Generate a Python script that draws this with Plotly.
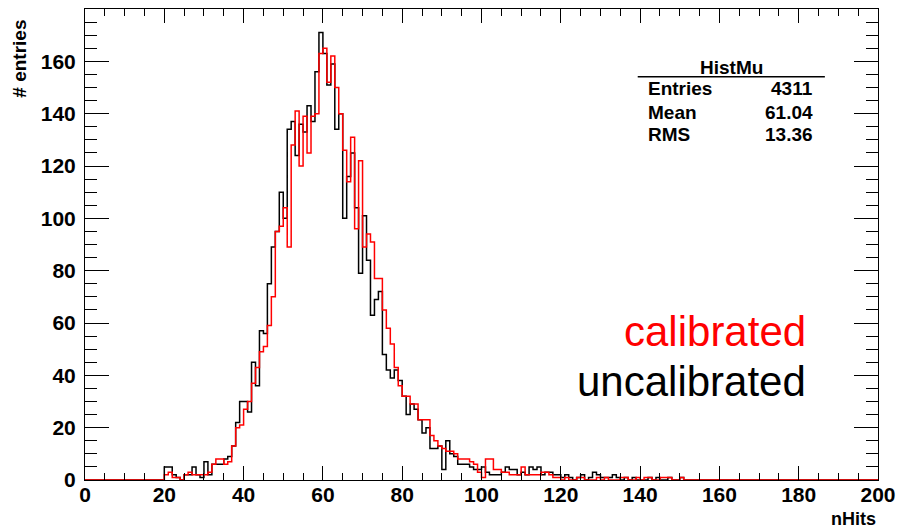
import numpy as np
import plotly.graph_objects as go

# Histogram binning: 200 bins of width 1 on [0, 200)
n_bins = 200
x_min, x_max = 0, 200
first_bin = 20  # counts below start at bin 20 (all earlier bins are empty)

uncalibrated = [
    5, 5, 2, 1, 0, 2, 2, 5, 2, 1,            # 20-29
    7, 2, 6, 6, 6, 8, 9, 13, 22, 30,         # 30-39
    30, 26, 45, 36, 57, 56, 75, 89, 95, 110, # 40-49
    100, 134, 137, 124, 136, 133, 143, 137, 156, 171,  # 50-59
    163, 151, 159, 134, 140, 100, 116, 125, 104, 79,   # 60-69
    101, 84, 63, 69, 72, 48, 42, 39, 42, 38, # 70-79
    32, 25, 29, 27, 23, 18, 20, 12, 12, 13,  # 80-89
    4, 15, 10, 9, 6, 6, 6, 5, 4, 4,          # 90-99
    5, 3, 2, 2, 2, 3, 5, 4, 4, 2,            # 100-109
    3, 2, 5, 4, 5, 2, 3, 3, 2, 2,            # 110-119
    1, 2, 1, 0, 1, 2, 0, 1, 3, 2,            # 120-129
    1, 1, 1, 2, 1, 0, 1, 0, 1, 0,            # 130-139
    0, 0, 1, 0, 1, 0, 0, 1, 0, 0,            # 140-149
    1,                                        # 150
]

calibrated = [
    2, 3, 1, 1, 0, 2, 3, 2, 2, 2,            # 20-29
    2, 3, 6, 8, 8, 6, 7, 13, 20, 21,         # 30-39
    27, 30, 37, 43, 49, 51, 59, 70, 95, 97,  # 40-49
    104, 89, 128, 141, 120, 139, 125, 139, 140, 163,   # 50-59
    165, 152, 162, 150, 140, 126, 114, 131, 96, 122,   # 60-69
    89, 94, 91, 77, 77, 65, 58, 52, 43, 36,  # 70-79
    32, 32, 29, 29, 23, 23, 23, 17, 15, 13,  # 80-89
    12, 11, 11, 10, 8, 8, 8, 7, 6, 3,        # 90-99
    1, 8, 8, 4, 4, 3, 3, 2, 2, 2,            # 100-109
    5, 2, 2, 2, 2, 3, 3, 2, 1, 1,            # 110-119
    0, 1, 0, 0, 1, 1, 0, 0, 0, 1,            # 120-129
    0, 1, 0, 0, 0, 1, 1, 0, 0, 1,            # 130-139
    0, 1, 1, 0, 0, 1, 1, 1, 0, 0,            # 140-149
    1,                                        # 150
]

stats_title = "HistMu"
stats_labels = ["Entries", "Mean", "RMS"]
stats_values = ["4311", "61.04", "13.36"]


def full_counts(vals):
    c = np.zeros(n_bins)
    c[first_bin:first_bin + len(vals)] = vals
    return c


edges = np.linspace(x_min, x_max, n_bins + 1)

fig = go.Figure()
for vals, color, name in [(uncalibrated, "black", "uncalibrated"),
                          (calibrated, "red", "calibrated")]:
    c = full_counts(vals)
    y = np.append(c, c[-1])
    fig.add_trace(go.Scatter(
        x=edges, y=y, mode="lines", line_shape="hv",
        line=dict(color=color, width=1.5), name=name,
        showlegend=False, cliponaxis=False, hoverinfo="skip"))

font_bold = "Liberation Sans, Arial, sans-serif"

fig.update_layout(
    width=898, height=529,
    margin=dict(l=85, r=20, t=9, b=49, autoexpand=False),
    paper_bgcolor="white", plot_bgcolor="white",
    font=dict(family=font_bold, color="black"),
)
fig.update_xaxes(
    range=[x_min, x_max], showgrid=False, zeroline=False, automargin=False,
    showline=True, linecolor="black", linewidth=1, mirror="allticks",
    ticks="inside", ticklen=14, tickcolor="black", tickwidth=1,
    tick0=0, dtick=20,
    minor=dict(ticks="inside", ticklen=7, dtick=5, tickcolor="black", showgrid=False),
    tickfont=dict(size=21, family=font_bold, weight="bold"),
    ticklabelstandoff=-4,
)
fig.update_yaxes(
    range=[0, 180], showgrid=False, zeroline=False, automargin=False,
    showline=True, linecolor="black", linewidth=1, mirror="allticks",
    ticks="inside", ticklen=24, tickcolor="black", tickwidth=1,
    tick0=0, dtick=20,
    minor=dict(ticks="inside", ticklen=12, dtick=5, tickcolor="black", showgrid=False),
    tickfont=dict(size=21, family=font_bold, weight="bold"),
    ticklabelstandoff=4,
)

annotations = []
# axis titles
annotations.append(dict(text="# entries", xref="paper", yref="paper", x=-0.083, y=0.982,
                        xanchor="center", yanchor="top", textangle=-90, showarrow=False,
                        font=dict(size=19, family=font_bold, weight="bold")))
annotations.append(dict(text="nHits", xref="paper", yref="paper", x=1.0, y=-0.083,
                        xanchor="right", yanchor="middle", showarrow=False,
                        font=dict(size=18, family=font_bold, weight="bold")))
# stats box
annotations.append(dict(text=stats_title, xref="paper", yref="paper", x=0.815, y=0.875,
                        xanchor="center", yanchor="middle", showarrow=False,
                        font=dict(size=19, family=font_bold, weight="bold")))
row_y = [0.832, 0.781, 0.734]
for lab, val, yy in zip(stats_labels, stats_values, row_y):
    annotations.append(dict(text=lab, xref="paper", yref="paper", x=0.707, y=yy,
                            xanchor="left", yanchor="middle", showarrow=False,
                            font=dict(size=19, family=font_bold, weight="bold")))
    annotations.append(dict(text=val, xref="paper", yref="paper", x=0.921, y=yy,
                            xanchor="right", yanchor="middle", showarrow=False,
                            font=dict(size=19, family=font_bold, weight="bold")))
# legend texts
annotations.append(dict(text="calibrated", xref="paper", yref="paper", x=0.912, y=0.316,
                        xanchor="right", yanchor="middle", showarrow=False,
                        font=dict(size=42, family=font_bold, color="red")))
annotations.append(dict(text="uncalibrated", xref="paper", yref="paper", x=0.912, y=0.21,
                        xanchor="right", yanchor="middle", showarrow=False,
                        font=dict(size=42, family=font_bold, color="black")))
fig.update_layout(annotations=annotations)

fig.add_shape(type="line", xref="paper", yref="paper", x0=0.697, x1=0.933, y0=0.856, y1=0.856,
              line=dict(color="black", width=1.5))

fig.write_html("out.html")
